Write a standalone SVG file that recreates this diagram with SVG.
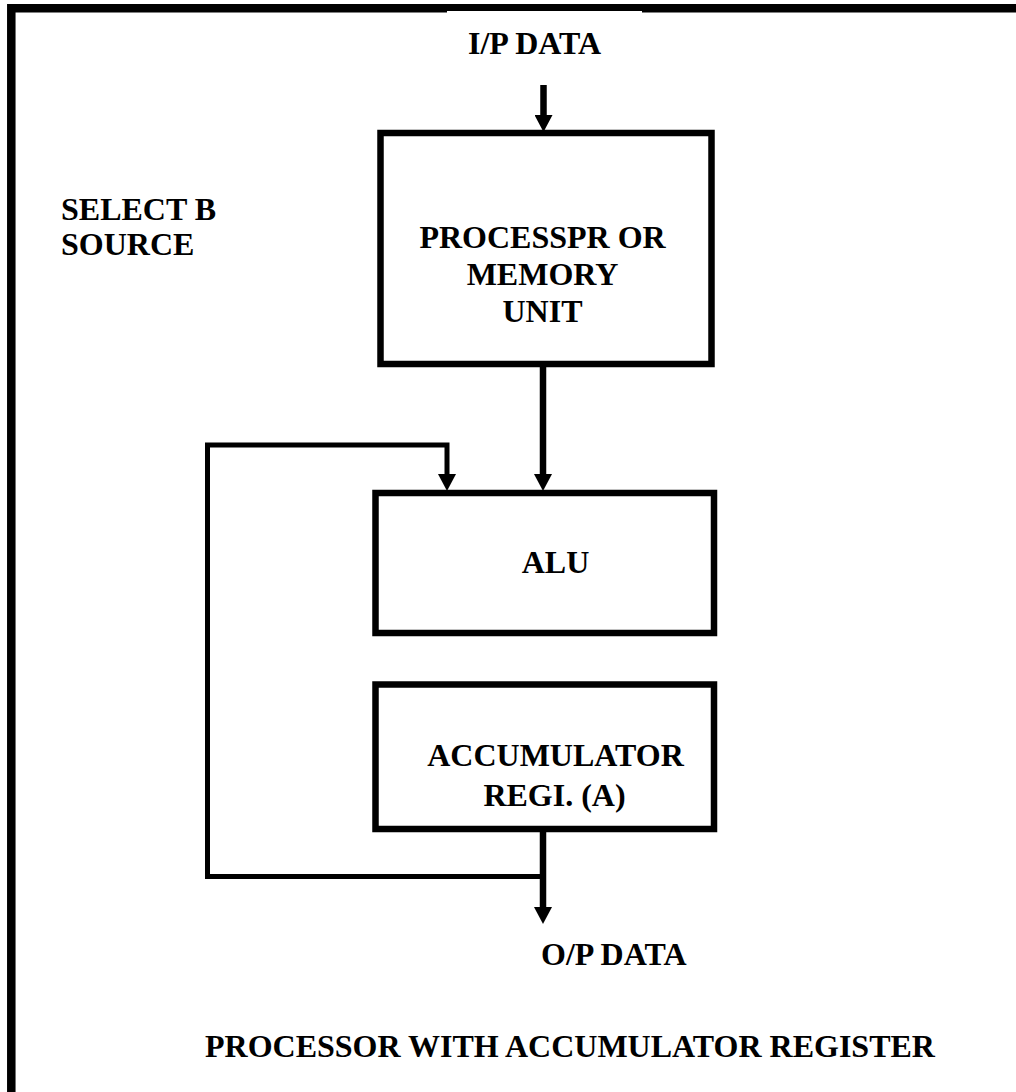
<svg xmlns="http://www.w3.org/2000/svg" width="1016" height="1092" viewBox="0 0 1016 1092">
  <style>
    .lbl { font-family: "Liberation Serif", "Times New Roman", serif; font-weight: bold; font-size: 32px; fill: #000; }
    .box { fill: #fff; stroke: #000; stroke-width: 6.5; }
    .wire { fill: none; stroke: #000; stroke-width: 6.5; }
    .loop { fill: none; stroke: #000; stroke-width: 5; }
    .frame { fill: none; stroke: #000; stroke-width: 8.5; }
  </style>
  <defs>
    <marker id="arrow" markerUnits="userSpaceOnUse" markerWidth="18" markerHeight="18" viewBox="0 0 17 18" refX="0" refY="9" orient="auto">
      <path d="M0,0 L17,9 L0,18 Z" fill="#000"/>
    </marker>
  </defs>
  <rect width="1016" height="1092" fill="#fff"/>

  <!-- page frame -->
  <g id="frame">
    <path class="frame" d="M11.3,1092 V8.3 H447"/>
    <path class="frame" d="M642,8.3 H1016"/>
    <path fill="none" stroke="#000" stroke-width="7" d="M447,7.5 H642"/>
  </g>

  <!-- connectors -->
  <g id="connectors">
    <path class="wire" d="M543.5,85 V115" marker-end="url(#arrow)"/>
    <path class="wire" d="M543,367 V474" marker-end="url(#arrow)"/>
    <path class="wire" d="M543,832 V907" marker-end="url(#arrow)"/>
    <path class="loop" d="M545.5,876.5 H207.5 V445 H447 V474" marker-end="url(#arrow)"/>
  </g>

  <g id="input-label">
    <text class="lbl" x="468" y="54">I/P DATA</text>
  </g>

  <g id="select-label">
    <text class="lbl" x="61" y="220">SELECT B</text>
    <text class="lbl" x="61" y="255">SOURCE</text>
  </g>

  <g id="memory-unit">
    <rect class="box" x="380.5" y="133" width="331" height="231" stroke-width="7"/>
    <text class="lbl" text-anchor="middle" x="542.5" y="248">PROCESSPR OR</text>
    <text class="lbl" text-anchor="middle" x="542.5" y="285">MEMORY</text>
    <text class="lbl" text-anchor="middle" x="542.5" y="322">UNIT</text>
  </g>

  <g id="alu">
    <rect class="box" x="375.5" y="493" width="338.5" height="140"/>
    <text class="lbl" text-anchor="middle" x="555.5" y="573">ALU</text>
  </g>

  <g id="accumulator">
    <rect class="box" x="375.5" y="684.5" width="338.5" height="144.5"/>
    <text class="lbl" text-anchor="middle" x="555.5" y="766">ACCUMULATOR</text>
    <text class="lbl" text-anchor="middle" x="554.5" y="806">REGI. (A)</text>
  </g>

  <g id="output-label">
    <text class="lbl" x="541" y="965">O/P DATA</text>
  </g>

  <g id="title">
    <text class="lbl" x="205" y="1057">PROCESSOR WITH ACCUMULATOR REGISTER</text>
  </g>
</svg>
